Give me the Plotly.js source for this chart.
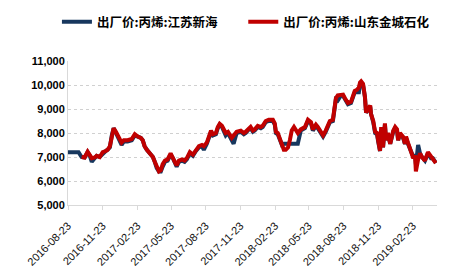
<!DOCTYPE html>
<html>
<head>
<meta charset="utf-8">
<script src="https://cdn.plot.ly/plotly-3.0.1.min.js"></script>
<style>html,body{margin:0;padding:0;background:#fff;}#chart{width:458px;height:275px;}</style>
</head>
<body>
<div id="chart"></div>
<script>
const seriesNames = ['出厂价:丙烯:江苏新海', '出厂价:丙烯:山东金城石化'];
const tickDates = ['2016-08-23','2016-11-23','2017-02-23','2017-05-23','2017-08-23','2017-11-23','2018-02-23','2018-05-23','2018-08-23','2018-11-23','2019-02-23'];

const dates = ['2016-08-23','2016-09-01','2016-09-10','2016-09-20','2016-09-28','2016-10-06','2016-10-14','2016-10-20','2016-10-25','2016-11-02','2016-11-07','2016-11-15','2016-11-23','2016-12-01','2016-12-06','2016-12-12','2016-12-17','2016-12-22','2016-12-28','2017-01-02','2017-01-07','2017-01-12','2017-01-18','2017-01-28','2017-02-08','2017-02-16','2017-02-24','2017-03-04','2017-03-09','2017-03-14','2017-03-20','2017-03-28','2017-04-05','2017-04-10','2017-04-15','2017-04-21','2017-04-26','2017-05-01','2017-05-07','2017-05-14','2017-05-22','2017-05-28','2017-06-02','2017-06-07','2017-06-13','2017-06-21','2017-06-28','2017-07-04','2017-07-12','2017-07-20','2017-07-28','2017-08-05','2017-08-13','2017-08-18','2017-08-26','2017-08-31','2017-09-06','2017-09-11','2017-09-19','2017-09-24','2017-09-29','2017-10-05','2017-10-10','2017-10-15','2017-10-21','2017-10-26','2017-10-31','2017-11-05','2017-11-13','2017-11-24','2017-12-02','2017-12-07','2017-12-15','2017-12-20','2017-12-26','2017-12-31','2018-01-08','2018-01-16','2018-01-21','2018-01-29','2018-02-06','2018-02-17','2018-02-22','2018-02-25','2018-03-02','2018-03-07','2018-03-13','2018-03-18','2018-03-23','2018-03-29','2018-04-03','2018-04-08','2018-04-14','2018-04-19','2018-04-24','2018-05-02','2018-05-08','2018-05-13','2018-05-21','2018-05-29','2018-06-03','2018-06-11','2018-06-16','2018-06-22','2018-06-30','2018-07-07','2018-07-13','2018-07-18','2018-07-26','2018-07-31','2018-08-03','2018-08-08','2018-08-16','2018-08-22','2018-08-27','2018-09-04','2018-09-12','2018-09-17','2018-09-22','2018-09-28','2018-10-03','2018-10-06','2018-10-09','2018-10-14','2018-10-19','2018-10-22','2018-10-27','2018-11-02','2018-11-04','2018-11-10','2018-11-15','2018-11-20','2018-11-23','2018-11-28','2018-12-01','2018-12-06','2018-12-11','2018-12-14','2018-12-19','2018-12-25','2019-01-02','2019-01-07','2019-01-12','2019-01-15','2019-01-20','2019-01-28','2019-02-02','2019-02-05','2019-02-10','2019-02-15','2019-02-23','2019-03-01','2019-03-03','2019-03-09','2019-03-14','2019-03-19','2019-03-27','2019-04-04','2019-04-12','2019-04-17','2019-04-25'];

const jiangsuXinhai = [7200,7200,7200,7200,7000,6980,7200,7050,6800,6950,7050,7000,7150,7250,7300,7400,7900,8200,8000,7850,7700,7500,7650,7650,7700,7900,7850,7800,7700,7450,7300,7150,7000,6800,6550,6400,6400,6600,6800,6850,7100,6950,6750,6600,6800,6850,6800,6900,7150,7050,7250,7400,7450,7300,7550,7850,8050,7900,7950,8200,8350,8250,8050,7900,8000,7850,7750,7550,8000,8050,7950,8000,8150,8200,8050,8100,8250,8200,8250,8450,8500,8500,8350,8000,7950,7750,7500,7550,7550,7550,7550,7550,7550,7550,7550,8100,8150,8200,8500,8400,8100,8300,8200,8050,7850,8050,8250,8450,8500,8950,9400,9350,9550,9550,9400,9200,9250,9450,9700,9700,9700,10050,10100,10000,9500,8850,9000,9100,8800,8450,8000,7950,7650,7250,8150,7400,8350,7700,7950,7550,8050,8200,8100,7700,7950,7800,7550,7800,7550,7350,7050,7050,6700,7500,7150,7000,6850,7150,6950,6950,6750];

const shandongJincheng = [null,null,null,null,7000,6980,7220,7100,6950,6980,7050,7000,7200,7250,7300,7450,7900,8200,8050,7900,7800,7600,7700,7700,7750,7950,7850,7800,7700,7450,7300,7150,7000,6800,6600,6400,6450,6700,6850,6900,7150,7000,6800,6650,6850,6900,6850,6950,7200,7100,7300,7450,7500,7450,7600,7900,8100,7950,8000,8250,8380,8300,8100,8000,8050,7900,7800,7900,8050,8100,8000,8050,8200,8250,8100,8150,8300,8250,8300,8500,8550,8550,8400,8050,8000,7800,7500,7300,7300,7400,7700,8100,8250,8100,8000,8150,8200,8250,8550,8450,8150,8350,8250,8100,7900,8100,8300,8500,8550,9000,9450,9570,9600,9600,9450,9250,9300,9500,9750,9800,9900,10100,10150,10050,9500,8850,9000,9150,8800,8500,8050,8000,7700,7250,8250,7400,8400,7700,8000,7550,8100,8250,8150,7700,8000,7850,7550,7850,7600,7350,7000,7000,6400,6900,7150,7000,6850,7200,7000,6950,6750];

const legendFont = {family: 'Noto Sans CJK SC', size: 12.5, color: '#000', weight: 'bold'};

const traces = [
  {x: dates, y: jiangsuXinhai, name: seriesNames[0], type: 'scatter', mode: 'lines',
   line: {color: '#17375E', width: 4}, legend: 'legend'},
  {x: dates, y: shandongJincheng, name: seriesNames[1], type: 'scatter', mode: 'lines',
   line: {color: '#C00000', width: 4}, legend: 'legend2'}
];

const layout = {
  width: 458, height: 275,
  margin: {l: 68, r: 21, t: 61, b: 70, autoexpand: false},
  paper_bgcolor: '#fff', plot_bgcolor: '#fff',
  showlegend: true,
  legend: {orientation: 'h', x: -0.03, xanchor: 'left', y: 1.27, yanchor: 'middle',
    font: legendFont, bgcolor: 'rgba(0,0,0,0)'},
  legend2: {orientation: 'h', x: 0.475, xanchor: 'left', y: 1.27, yanchor: 'middle',
    font: legendFont, bgcolor: 'rgba(0,0,0,0)'},
  xaxis: {type: 'date', range: ['2016-08-23', '2019-04-28'],
    tickvals: tickDates, ticktext: tickDates, tickangle: -45,
    tickfont: {family: 'Liberation Sans Narrow, Liberation Sans', size: 11, color: '#111'},
    ticklabelstandoff: 5, automargin: false,
    showgrid: false, showline: true, linecolor: '#d9d9d9', linewidth: 1,
    ticks: 'outside', ticklen: 4, tickcolor: '#d9d9d9', zeroline: false, fixedrange: true},
  yaxis: {range: [5000, 11000], dtick: 1000, tickformat: ',d', automargin: false,
    tickfont: {family: 'Liberation Sans', size: 11, color: '#000', weight: 'bold'},
    showgrid: true, gridcolor: '#d0d0d0', griddash: 'dot', gridwidth: 1,
    showline: true, linecolor: '#d9d9d9', linewidth: 1, ticks: '', zeroline: false, fixedrange: true}
};

Plotly.newPlot('chart', traces, layout, {displayModeBar: false, staticPlot: true});
</script>
</body>
</html>
